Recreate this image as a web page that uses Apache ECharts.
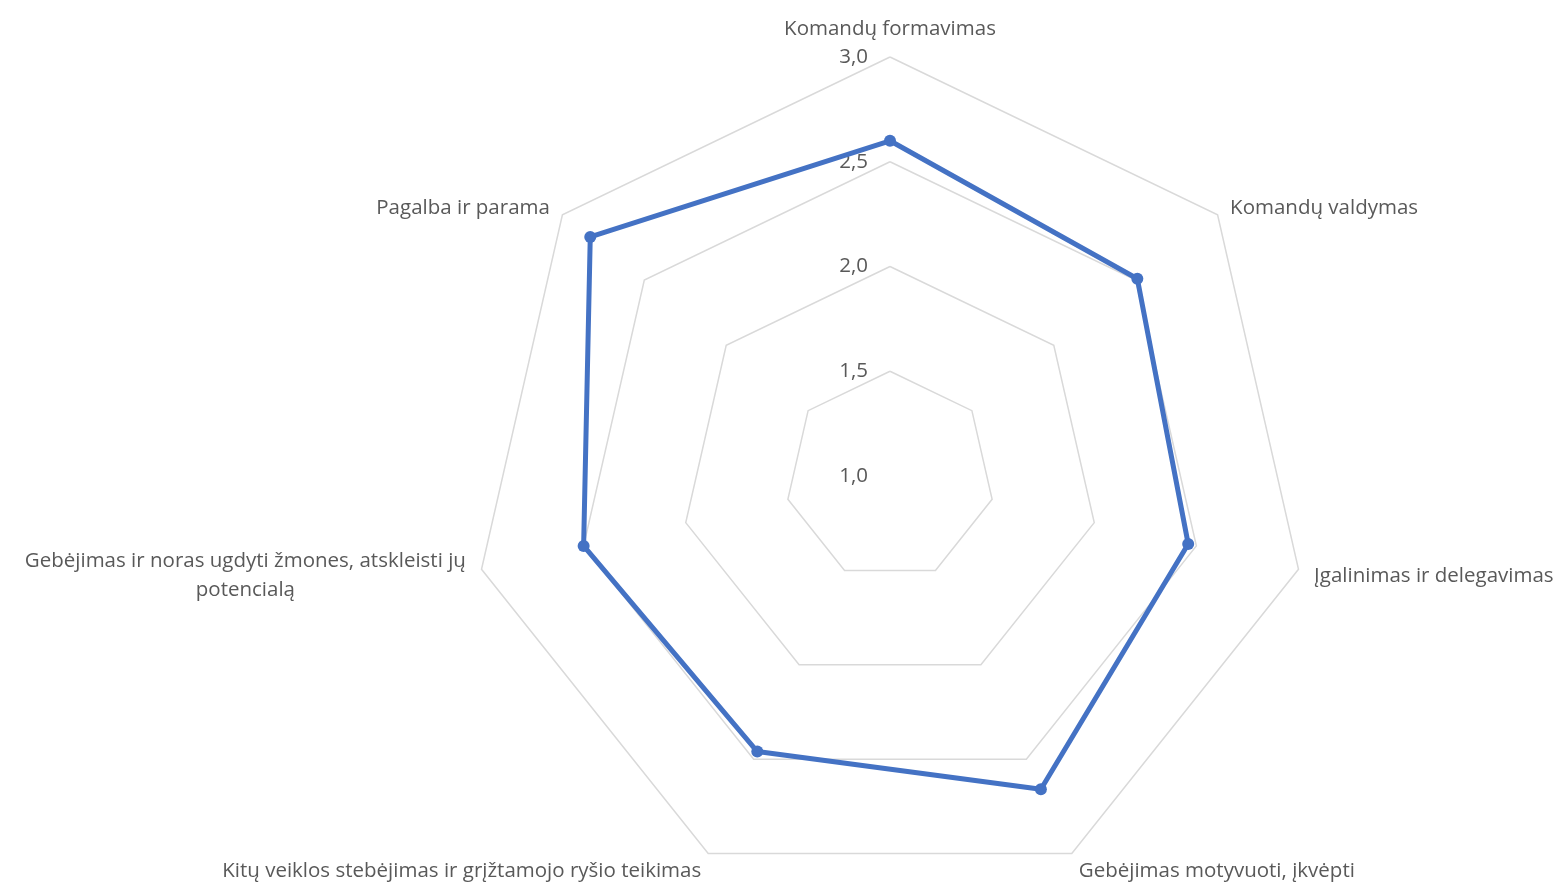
<!DOCTYPE html>
<html>
<head>
<meta charset="utf-8">
<script src="https://cdn.jsdelivr.net/npm/echarts@6/dist/echarts.min.js"></script>
<style>
  html, body { margin: 0; padding: 0; background: #fff; }
  #chart { width: 1568px; height: 882px; }
</style>
</head>
<body>
<div id="chart"></div>
<script>
// axis names, clockwise from top
const categories = [
  "Komandų formavimas",
  "Komandų valdymas",
  "Įgalinimas ir delegavimas",
  "Gebėjimas motyvuoti, įkvėpti",
  "Kitų veiklos stebėjimas ir grįžtamojo ryšio teikimas",
  "Gebėjimas ir noras ugdyti žmones, atskleisti jų\npotencialą",
  "Pagalba ir parama",
]
const values = [2.6, 2.51, 2.46, 2.66, 2.46, 2.5, 2.83]
const axisMin = 1
const axisMax = 3
const axisStep = 0.5

// echarts lays radar axes out counter-clockwise, so flip the order after the first
const order = [0, ...categories.map((_, i) => i).slice(1).reverse()]

const chart = echarts.init(document.getElementById("chart"))

const textColor = "#595959"
const font = "'Open Sans', 'Noto Sans', sans-serif"
const fontSize = 20.5

chart.setOption({
  animation: false,
  radar: {
    center: [890, 476],
    radius: 419,
    startAngle: 90,
    shape: "polygon",
    splitNumber: (axisMax - axisMin) / axisStep,
    indicator: order.map((i) => ({
      name: categories[i],
      min: axisMin,
      max: axisMax,
      // only the first axis carries tick labels
      axisLabel: { show: i === 0 },
    })),
    axisName: {
      color: textColor,
      fontFamily: font,
      fontSize,
      formatter: (name) =>
        name.split("\n").map((l) => `{c|${l}}`).join("\n"),
      rich: {
        c: { align: "center", color: textColor, fontFamily: font, fontSize, lineHeight: 29, padding: [6, 0, 0, 0] },
      },
    },
    nameGap: 16,
    axisLine: { show: false },
    axisTick: { show: false },
    splitArea: { show: false },
    splitLine: { lineStyle: { color: "#d9d9d9", width: 1.5 } },
    axisLabel: {
      show: false,
      color: textColor,
      fontFamily: font,
      fontSize,
      margin: 22,
      padding: [6, 0, 0, 0],
      formatter: (v) => v.toFixed(1).replace(".", ","),
    },
  },
  series: [
    {
      type: "radar",
      symbol: "circle",
      symbolSize: 12,
      lineStyle: { color: "#4472C4", width: 5 },
      itemStyle: { color: "#4472C4" },
      data: [{ value: order.map((i) => values[i]) }],
    },
  ],
})
</script>
</body>
</html>
